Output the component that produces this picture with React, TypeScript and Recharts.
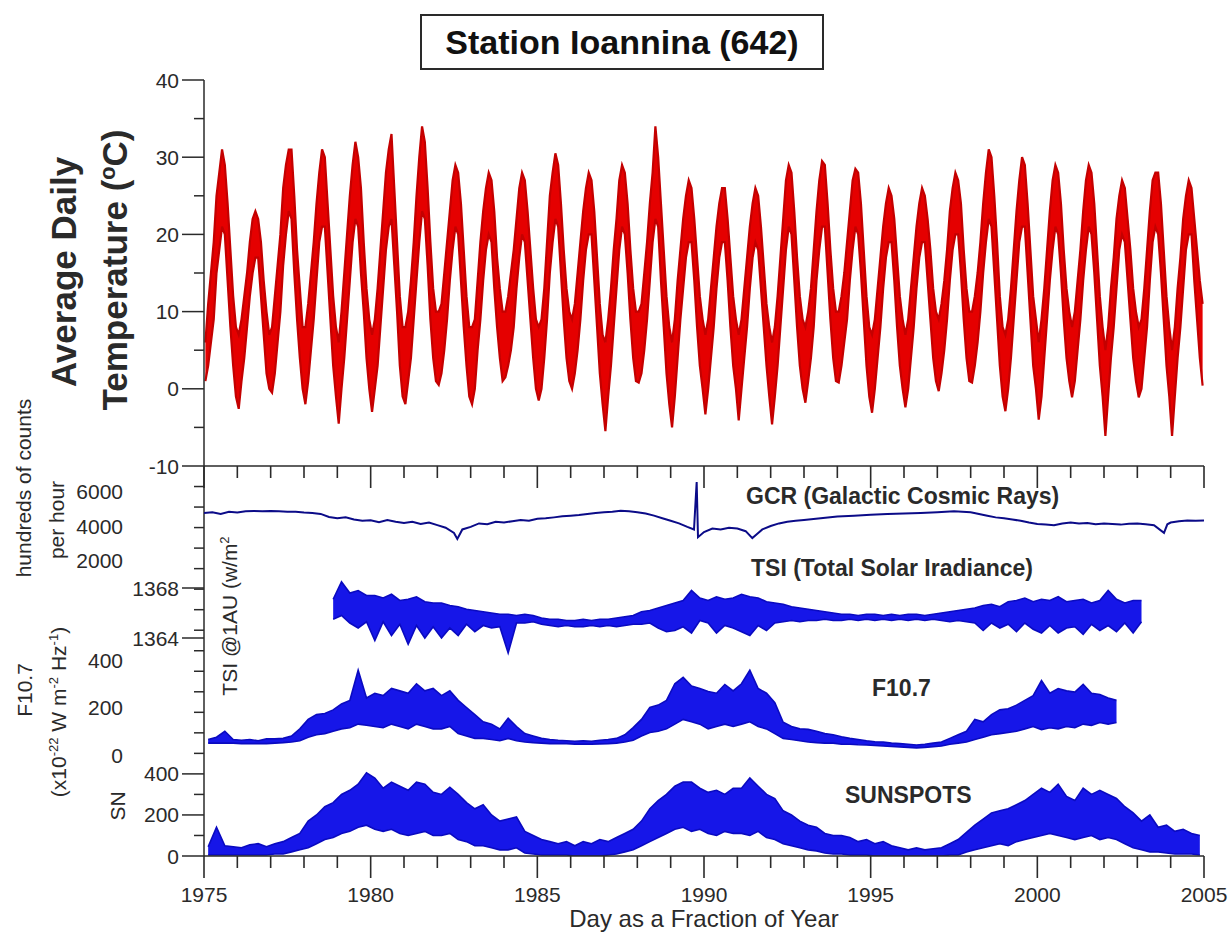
import React from "react";
import { ComposedChart, Area, Line, XAxis, YAxis } from "recharts";

const W = 1229;
const H = 935;
const PLOT_L = 204;
const PLOT_R = 1204;
const LOWER_TOP = 466;
const LOWER_BOTTOM = 856;
const AXIS_W = 60;
const X_AXIS_H = 30;
const AXIS = "#2a2a2a";
const TEXT = "#2a2a2a";
const RED = "#e50000";
const RED_EDGE = "#c40000";
const BLUE = "#1616e8";
const BLUE_EDGE = "#0a0ac0";
const NAVY = "#0b0b88";
const FONT = '"Liberation Sans", Arial, Helvetica, sans-serif';

const YEAR_TICKS = [
  1975, 1976, 1977, 1978, 1979, 1980, 1981, 1982, 1983, 1984, 1985, 1986, 1987, 1988, 1989, 1990,
  1991, 1992, 1993, 1994, 1995, 1996, 1997, 1998, 1999, 2000, 2001, 2002, 2003, 2004, 2005,
];
const TEMP_TICKS = [-10, -5, 0, 5, 10, 15, 20, 25, 30, 35, 40];
const GCR_TICKS = [2000, 4000, 6000];
const TSI_TICKS = [1364, 1368];
const F107_TICKS = [0, 200, 400];
const SN_TICKS = [0, 100, 200, 300, 400, 500, 600, 700, 800, 900, 1000, 1100, 1200, 1300, 1400, 1500, 1600, 1700, 1800];

// daily temperature envelope, one row per year (1975..2004), Jan..Dec
const TEMP_LO = [
  [1, 3, 6, 9, 15, 18, 21, 20, 14, 8, 3, -1],
  [-2.6, 1, 4, 8, 12, 15, 17, 17, 12, 7, 2, 0],
  [-0.5, 2, 6, 10, 16, 20, 23, 22, 15, 9, 4, 0],
  [-2, 1, 5, 9, 14, 19, 21, 21, 15, 9, 3, -1],
  [-4.5, 0, 4, 9, 14, 19, 22, 21, 15, 10, 4, 0],
  [-3, 0, 3, 8, 13, 18, 21, 22, 16, 10, 3, -1],
  [-2, 1, 4, 9, 14, 19, 23, 22, 16, 9, 4, 1],
  [0.5, 2, 5, 9, 14, 18, 21, 20, 14, 8, 3, -1],
  [-2, 0, 5, 9, 14, 18, 20, 19, 13, 8, 4, 1],
  [1.5, 3, 5, 8, 13, 17, 20, 19, 14, 9, 4, 0],
  [-1.5, 0, 4, 9, 15, 19, 22, 21, 15, 9, 4, 1],
  [0, 2, 5, 9, 14, 18, 20, 20, 14, 8, 2, -2],
  [-5.5, -1, 3, 8, 13, 18, 21, 20, 15, 9, 4, 1],
  [0.8, 2, 5, 9, 14, 19, 22, 21, 14, 8, 2, -2],
  [-5, -1, 4, 9, 13, 17, 19, 19, 14, 8, 3, 0],
  [-3.3, 0, 4, 8, 13, 17, 19, 19, 14, 8, 3, 0],
  [-4.1, 0, 4, 8, 13, 17, 19, 18, 13, 8, 3, -1],
  [-4.6, -1, 3, 8, 13, 18, 21, 20, 14, 8, 3, 0],
  [-1.8, 1, 4, 8, 14, 18, 21, 21, 15, 9, 4, 1],
  [0.8, 3, 6, 9, 14, 18, 21, 20, 15, 9, 3, -1],
  [-3.1, 0, 4, 8, 13, 17, 19, 19, 14, 8, 3, 0],
  [-2.4, 0, 4, 8, 13, 17, 19, 19, 14, 9, 4, 1],
  [-0.3, 2, 5, 9, 14, 18, 20, 20, 15, 9, 4, 1],
  [0.8, 3, 6, 10, 15, 19, 22, 21, 15, 9, 3, -1],
  [-2.9, 0, 4, 9, 14, 19, 21, 21, 15, 9, 3, 0],
  [-4, -1, 4, 9, 14, 18, 21, 20, 15, 9, 4, 1],
  [-1.1, 1, 5, 9, 14, 18, 21, 20, 15, 9, 3, -1],
  [-6.1, -1, 4, 8, 13, 18, 20, 19, 14, 9, 4, 1],
  [-1.1, 0, 4, 8, 14, 19, 21, 20, 15, 9, 3, -1],
  [-6.1, -1, 4, 8, 13, 18, 20, 20, 14, 9, 4, 0.4],
];
const TEMP_HI = [
  [6, 11, 15, 19, 25, 28, 31, 29, 24, 18, 12, 8],
  [7, 9, 12, 15, 19, 22, 23, 22, 19, 14, 10, 7],
  [8, 12, 16, 20, 26, 29, 31, 31, 25, 18, 13, 8],
  [8, 11, 15, 19, 24, 28, 31, 30, 24, 18, 12, 8],
  [6, 10, 15, 20, 25, 29, 32, 30, 26, 19, 13, 9],
  [7, 9, 13, 18, 23, 28, 31, 33, 26, 19, 12, 8],
  [8, 10, 14, 19, 25, 30, 34, 32, 26, 19, 13, 10],
  [10, 11, 15, 19, 23, 27, 29, 28, 24, 18, 12, 8],
  [8, 9, 14, 19, 23, 26, 28, 27, 23, 17, 13, 10],
  [10, 12, 15, 18, 22, 26, 28, 27, 23, 18, 13, 9],
  [8, 9, 13, 19, 25, 28, 30.5, 29, 24, 18, 13, 10],
  [9, 11, 15, 19, 23, 26, 28, 27, 23, 17, 11, 7],
  [6, 9, 13, 18, 22, 27, 29, 28, 24, 18, 13, 10],
  [10, 11, 15, 19, 24, 28, 34, 30, 24, 18, 12, 8],
  [6, 9, 14, 18, 22, 25, 27, 26, 22, 17, 12, 9],
  [7, 9, 13, 17, 21, 24, 26, 26, 22, 17, 12, 9],
  [7, 9, 13, 17, 21, 24, 26, 25, 21, 16, 11, 8],
  [6, 8, 12, 17, 22, 27, 29, 28, 23, 17, 12, 9],
  [8, 10, 13, 18, 23, 27, 29.5, 29, 24, 18, 13, 10],
  [10, 12, 15, 19, 23, 27, 28.5, 28, 24, 18, 12, 8],
  [7, 9, 13, 17, 21, 24, 26, 25, 22, 17, 12, 9],
  [7, 9, 13, 17, 21, 24, 26, 25, 22, 18, 13, 10],
  [9, 11, 14, 18, 23, 26, 28, 27, 24, 18, 13, 10],
  [10, 12, 15, 19, 24, 28, 31, 30, 25, 19, 12, 8],
  [7, 9, 13, 18, 23, 27, 30, 29, 24, 18, 12, 9],
  [6, 9, 13, 18, 23, 27, 29, 28, 24, 18, 13, 10],
  [8, 10, 14, 18, 23, 27, 29, 28, 24, 18, 12, 8],
  [5, 8, 13, 17, 22, 25, 27, 26, 22, 18, 13, 10],
  [8, 9, 13, 18, 23, 27, 28, 28, 24, 18, 12, 8],
  [5, 8, 13, 17, 22, 25, 27, 26, 22, 18, 14, 11],
];

// GCR neutron counts (hundreds of counts per hour): [year, value]
const GCR = [
  [1975.0, 4750], [1975.25, 4800], [1975.5, 4700], [1975.75, 4820], [1976.0, 4780], [1976.25, 4850],
  [1976.5, 4870], [1976.75, 4860], [1977.0, 4870], [1977.25, 4850], [1977.5, 4820], [1977.75, 4830],
  [1978.0, 4780], [1978.25, 4760], [1978.5, 4700], [1978.75, 4520], [1979.0, 4450], [1979.25, 4500],
  [1979.5, 4380], [1979.75, 4300], [1980.0, 4330], [1980.25, 4220], [1980.5, 4350], [1980.75, 4250],
  [1981.0, 4170], [1981.25, 4240], [1981.5, 4120], [1981.75, 4200], [1982.0, 4050], [1982.25, 3900],
  [1982.5, 3600], [1982.6, 3250], [1982.75, 3800], [1983.0, 3950], [1983.25, 4150], [1983.5, 4100],
  [1983.75, 4250], [1984.0, 4200], [1984.25, 4280], [1984.5, 4350], [1984.75, 4300], [1985.0, 4420],
  [1985.25, 4450], [1985.5, 4500], [1985.75, 4560], [1986.0, 4600], [1986.25, 4640], [1986.5, 4700],
  [1986.75, 4750], [1987.0, 4800], [1987.25, 4830], [1987.5, 4880], [1987.75, 4850], [1988.0, 4800],
  [1988.25, 4720], [1988.5, 4600], [1988.75, 4450], [1989.0, 4300], [1989.25, 4150], [1989.5, 3950],
  [1989.7, 3800], [1989.78, 6550], [1989.82, 3350], [1990.0, 3650], [1990.25, 3850], [1990.5, 3800],
  [1990.75, 3900], [1991.0, 3850], [1991.25, 3700], [1991.45, 3300], [1991.6, 3550], [1991.75, 3800],
  [1992.0, 4000], [1992.25, 4150], [1992.5, 4250], [1992.75, 4300], [1993.0, 4350], [1993.5, 4450],
  [1994.0, 4550], [1994.5, 4600], [1995.0, 4650], [1995.5, 4700], [1996.0, 4720], [1996.5, 4760],
  [1997.0, 4800], [1997.5, 4850], [1998.0, 4800], [1998.25, 4700], [1998.5, 4600], [1998.75, 4500],
  [1999.0, 4450], [1999.25, 4380], [1999.5, 4300], [1999.75, 4200], [2000.0, 4120], [2000.25, 4080],
  [2000.5, 4050], [2000.75, 4150], [2001.0, 4200], [2001.25, 4150], [2001.5, 4180], [2001.75, 4100],
  [2002.0, 4150], [2002.25, 4120], [2002.5, 4080], [2002.75, 4130], [2003.0, 4150], [2003.25, 4100],
  [2003.5, 4050], [2003.8, 3600], [2003.9, 4100], [2004.0, 4200], [2004.25, 4280], [2004.5, 4320],
  [2004.75, 4300], [2005.0, 4320],
];

// TSI (W/m2), quarterly [lo, hi] pairs; first row is 1978 Q4 only
const TSI_Q = [
  [1365.5, 1367.1],
  [1365.8, 1368.5, 1365.2, 1367.6, 1364.8, 1367.8, 1365.3, 1367.4],
  [1363.8, 1367.4, 1365.3, 1367.2, 1364.2, 1367.5, 1365.1, 1367.0],
  [1363.5, 1367.1, 1365.0, 1367.3, 1364.0, 1366.9, 1364.9, 1366.8],
  [1364.0, 1366.8, 1364.8, 1366.6, 1364.2, 1366.5, 1365.1, 1366.3],
  [1364.5, 1366.2, 1365.0, 1366.1, 1364.8, 1366.0, 1364.9, 1365.9],
  [1362.8, 1365.9, 1365.2, 1365.8, 1365.2, 1365.9, 1365.3, 1365.8],
  [1365.1, 1365.6, 1365.0, 1365.5, 1364.9, 1365.5, 1365.0, 1365.4],
  [1364.9, 1365.4, 1364.9, 1365.5, 1365.0, 1365.4, 1364.9, 1365.5],
  [1365.0, 1365.5, 1364.9, 1365.6, 1365.0, 1365.7, 1365.1, 1365.8],
  [1365.1, 1366.1, 1365.2, 1366.2, 1364.8, 1366.4, 1364.5, 1366.6],
  [1364.6, 1366.8, 1364.9, 1367.0, 1364.4, 1367.8, 1365.4, 1367.2],
  [1365.2, 1367.0, 1364.4, 1367.3, 1365.0, 1367.1, 1364.8, 1367.2],
  [1364.5, 1367.5, 1364.2, 1367.3, 1365.0, 1367.2, 1364.6, 1366.9],
  [1365.2, 1366.8, 1365.3, 1366.7, 1365.4, 1366.5, 1365.3, 1366.4],
  [1365.4, 1366.3, 1365.4, 1366.2, 1365.5, 1366.1, 1365.4, 1366.0],
  [1365.4, 1365.9, 1365.5, 1365.9, 1365.4, 1365.8, 1365.5, 1365.9],
  [1365.4, 1365.9, 1365.5, 1365.8, 1365.4, 1365.9, 1365.5, 1365.8],
  [1365.4, 1365.9, 1365.5, 1365.9, 1365.4, 1365.8, 1365.5, 1365.9],
  [1365.4, 1366.0, 1365.3, 1366.1, 1365.4, 1366.2, 1365.3, 1366.3],
  [1365.2, 1366.4, 1364.6, 1366.6, 1365.2, 1366.7, 1364.8, 1366.5],
  [1365.1, 1366.9, 1364.5, 1367.0, 1365.2, 1367.2, 1364.7, 1366.9],
  [1364.4, 1367.1, 1365.0, 1367.0, 1364.4, 1367.3, 1364.8, 1366.9],
  [1364.9, 1367.0, 1364.3, 1367.1, 1365.1, 1366.8, 1364.6, 1367.0],
  [1365.0, 1367.8, 1364.5, 1367.1, 1365.2, 1366.8, 1364.4, 1367.0],
  [1365.3, 1367.0],
];

// F10.7 solar flux, quarterly [lo, hi] pairs from 1975
const F107_Q = [
  [50, 65, 50, 75, 50, 100, 50, 65],
  [48, 62, 48, 65, 48, 60, 48, 68],
  [50, 68, 52, 70, 55, 80, 60, 110],
  [75, 150, 85, 170, 90, 175, 100, 190],
  [110, 215, 115, 230, 130, 357, 125, 240],
  [120, 260, 115, 250, 130, 280, 120, 270],
  [110, 260, 130, 300, 120, 270, 110, 280],
  [110, 250, 120, 270, 90, 230, 80, 200],
  [70, 170, 70, 140, 65, 130, 60, 110],
  [70, 155, 60, 120, 55, 90, 52, 80],
  [50, 70, 48, 65, 48, 62, 48, 60],
  [46, 58, 46, 60, 46, 58, 47, 62],
  [48, 65, 50, 70, 55, 85, 62, 115],
  [80, 150, 95, 200, 100, 210, 110, 230],
  [130, 300, 150, 327, 140, 290, 130, 280],
  [110, 267, 120, 260, 130, 297, 120, 270],
  [130, 300, 140, 357, 120, 280, 110, 260],
  [90, 220, 70, 138, 65, 120, 60, 110],
  [55, 108, 52, 100, 50, 90, 50, 85],
  [45, 77, 45, 70, 43, 65, 42, 60],
  [40, 56, 38, 55, 36, 50, 34, 48],
  [32, 45, 30, 42, 32, 45, 35, 50],
  [38, 55, 45, 70, 50, 85, 55, 100],
  [65, 150, 75, 140, 85, 170, 90, 190],
  [95, 195, 100, 210, 110, 230, 120, 250],
  [107, 313, 115, 260, 110, 280, 120, 270],
  [115, 265, 130, 297, 125, 260, 137, 255],
  [130, 240, 137, 230],
];

// sunspot number, quarterly [lo, hi] pairs from 1975
const SN_Q = [
  [5, 45, 5, 140, 5, 50, 5, 45],
  [5, 40, 5, 55, 5, 60, 5, 45],
  [10, 60, 10, 70, 20, 90, 30, 110],
  [40, 170, 60, 200, 80, 240, 90, 260],
  [110, 300, 120, 320, 140, 350, 150, 405],
  [130, 380, 120, 330, 130, 360, 110, 340],
  [100, 320, 110, 360, 120, 350, 100, 310],
  [100, 300, 110, 335, 80, 300, 70, 260],
  [50, 230, 50, 250, 40, 200, 30, 170],
  [30, 180, 40, 190, 15, 120, 10, 100],
  [5, 80, 5, 70, 5, 60, 5, 70],
  [0, 50, 0, 70, 0, 60, 0, 80],
  [5, 70, 10, 90, 20, 110, 30, 130],
  [50, 170, 70, 230, 90, 270, 110, 300],
  [130, 340, 140, 360, 120, 360, 130, 330],
  [110, 310, 100, 320, 120, 300, 110, 330],
  [110, 330, 100, 380, 120, 340, 90, 300],
  [80, 280, 60, 220, 50, 200, 40, 170],
  [30, 150, 25, 140, 15, 110, 10, 100],
  [10, 100, 5, 90, 5, 70, 5, 80],
  [0, 60, 0, 70, 0, 50, 0, 40],
  [0, 30, 0, 40, 0, 30, 0, 35],
  [0, 40, 5, 60, 5, 80, 20, 115],
  [30, 150, 40, 180, 50, 210, 60, 220],
  [50, 230, 70, 250, 80, 270, 90, 300],
  [100, 330, 110, 310, 100, 350, 90, 290],
  [80, 270, 90, 330, 100, 300, 80, 320],
  [90, 300, 80, 280, 60, 240, 40, 210],
  [30, 170, 20, 200, 20, 140, 15, 150],
  [10, 120, 10, 130, 10, 110, 5, 100],
];

const tempData = TEMP_LO.flatMap((row, i) =>
  row.map((lo, m) => ({ t: 1975 + i + (m + 0.5) / 12, r: [lo, TEMP_HI[i][m]] }))
);

function quarterRows(rows: number[][], firstYear: number, firstQuarter = 0) {
  return rows.flatMap((row, i) => {
    const out: { t: number; r: number[] }[] = [];
    for (let k = 0; k < row.length; k += 2) {
      const q = (i === 0 ? firstQuarter : 0) + k / 2;
      out.push({ t: firstYear + i + (q + 0.5) / 4, r: [row[k], row[k + 1]] });
    }
    return out;
  });
}

const gcrData = GCR.map(([t, v]) => ({ t, v }));
const tsiData = quarterRows(TSI_Q, 1978, 3);
const f107Data = quarterRows(F107_Q, 1975);
const snData = quarterRows(SN_Q, 1975);

// plot area spans PLOT_L..PLOT_R horizontally and top..bottom vertically
const frame = (top: number, bottom: number, bottomAxisH = 0, topAxisH = 0, leftAxisW = AXIS_W) => ({
  top: top - topAxisH,
  bottom: H - bottom - bottomAxisH,
  left: PLOT_L - leftAxisW,
  right: W - PLOT_R,
});

const leftTick =
  (isMajor: (v: number) => boolean, hasLabel: (v: number) => boolean, labelX: number | null, lines = true) =>
  (props: any) => {
    const { x, y, payload } = props;
    const v = payload.value;
    const len = isMajor(v) ? 22 : 10;
    return (
      <g>
        {lines && <line x1={x - len} x2={x} y1={y} y2={y} stroke={AXIS} strokeWidth={1.5} />}
        {hasLabel(v) && (
          <text
            x={labelX ?? x - 25}
            y={y}
            textAnchor="end"
            dominantBaseline="central"
            fontSize={21}
            fontFamily={FONT}
            fill={TEXT}
          >
            {v}
          </text>
        )}
      </g>
    );
  };

// year ticks point down from their axis line
const yearTick = (withLabels: boolean) => (props: any) => {
  const { x, y, payload } = props;
  const v = Number(payload.value);
  const major = v % 5 === 0;
  const len = major ? 22 : 12;
  const y0 = Number(y);
  return (
    <g>
      <path d={`M${x},${y0}L${x},${y0 + len}`} stroke={AXIS} strokeWidth={1.6} fill="none" />
      {withLabels && major && (
        <text x={x} y={y0 + 38} textAnchor="middle" dominantBaseline="central" fontSize={21} fontFamily={FONT} fill={TEXT}>
          {v}
        </text>
      )}
    </g>
  );
};

const layer: React.CSSProperties = { position: "absolute", left: 0, top: 0 };

function VText({ x, y, size, bold, children }: any) {
  return (
    <div
      style={{
        position: "absolute",
        left: x,
        top: y,
        transform: "translate(-50%, -50%) rotate(-90deg)",
        whiteSpace: "nowrap",
        fontSize: size,
        fontWeight: bold ? 700 : 400,
        lineHeight: 1,
        color: TEXT,
      }}
    >
      {children}
    </div>
  );
}

function HText({ x, y, size, bold, children }: any) {
  return (
    <div
      style={{
        position: "absolute",
        left: x,
        top: y,
        transform: "translateY(-50%)",
        whiteSpace: "nowrap",
        fontSize: size,
        fontWeight: bold ? 700 : 400,
        lineHeight: 1,
        color: TEXT,
      }}
    >
      {children}
    </div>
  );
}

const sup = { fontSize: "0.62em", verticalAlign: "0.55em" } as React.CSSProperties;

export default function App() {
  const xHidden = <XAxis dataKey="t" type="number" domain={[1975, 2005]} hide allowDataOverflow />;
  const yearAxis = (orientation: "top" | "bottom", labels: boolean) => (
    <XAxis
      orientation={orientation}
      dataKey="t"
      type="number"
      domain={[1975, 2005]}
      ticks={YEAR_TICKS}
      interval={0}
      height={X_AXIS_H}
      tickSize={0}
      tickMargin={0}
      tickLine={false}
      axisLine={{ stroke: AXIS, strokeWidth: 1.5 }}
      tick={yearTick(labels)}
      allowDataOverflow
    />
  );
  return (
    <div
      style={{
        position: "absolute",
        left: 0,
        top: 0,
        width: W,
        height: H,
        background: "#fff",
        fontFamily: FONT,
        overflow: "hidden",
      }}
    >
      {/* temperature panel */}
      <div style={layer}>
        <ComposedChart width={W} height={H} data={tempData} margin={frame(80, LOWER_TOP)}>
          {xHidden}
          <YAxis
            type="number"
            domain={[-10, 40]}
            ticks={TEMP_TICKS}
            interval={0}
            width={AXIS_W}
            tickSize={0}
            tickMargin={0}
            tickLine={false}
            axisLine={{ stroke: AXIS, strokeWidth: 1.5 }}
            tick={leftTick((v) => v % 10 === 0, (v) => v % 10 === 0, null)}
            allowDataOverflow
          />
          <Area
            dataKey="r"
            type="linear"
            fill={RED}
            fillOpacity={1}
            stroke={RED_EDGE}
            strokeWidth={2.2}
            dot={false}
            activeDot={false}
            isAnimationActive={false}
          />
        </ComposedChart>
      </div>

      {/* sunspots + lower frame */}
      <div style={layer}>
        <ComposedChart width={W} height={H} data={snData} margin={frame(LOWER_TOP, LOWER_BOTTOM, X_AXIS_H)}>
          {yearAxis("bottom", true)}
          <YAxis
            type="number"
            domain={[0, 1900]}
            ticks={SN_TICKS}
            interval={0}
            width={AXIS_W}
            tickSize={0}
            tickMargin={0}
            tickLine={false}
            axisLine={{ stroke: AXIS, strokeWidth: 1.5 }}
            tick={leftTick((v) => v <= 400 && v % 200 === 0, (v) => v <= 400 && v % 200 === 0, null)}
            allowDataOverflow
          />
          <Area
            dataKey="r"
            type="linear"
            fill={BLUE}
            fillOpacity={1}
            stroke={BLUE_EDGE}
            strokeWidth={1.6}
            dot={false}
            activeDot={false}
            isAnimationActive={false}
          />
        </ComposedChart>
      </div>

      {/* F10.7 */}
      <div style={layer}>
        <ComposedChart width={W} height={H} data={f107Data} margin={frame(565, 755)}>
          {xHidden}
          <YAxis
            type="number"
            domain={[0, 800]}
            ticks={F107_TICKS}
            interval={0}
            width={AXIS_W}
            tickSize={0}
            tickMargin={0}
            tickLine={false}
            axisLine={false}
            tick={leftTick(() => false, () => true, 123, false)}
            allowDataOverflow
          />
          <Area
            dataKey="r"
            type="linear"
            fill={BLUE}
            fillOpacity={1}
            stroke={BLUE_EDGE}
            strokeWidth={1.6}
            dot={false}
            activeDot={false}
            isAnimationActive={false}
          />
        </ComposedChart>
      </div>

      {/* TSI */}
      <div style={layer}>
        <ComposedChart width={W} height={H} data={tsiData} margin={frame(538, 688)}>
          {xHidden}
          <YAxis
            type="number"
            domain={[1360, 1372]}
            ticks={TSI_TICKS}
            interval={0}
            width={AXIS_W}
            tickSize={0}
            tickMargin={0}
            tickLine={false}
            axisLine={false}
            tick={leftTick(() => true, () => true, null)}
            allowDataOverflow
          />
          <Area
            dataKey="r"
            type="linear"
            fill={BLUE}
            fillOpacity={1}
            stroke={BLUE_EDGE}
            strokeWidth={1.6}
            dot={false}
            activeDot={false}
            isAnimationActive={false}
          />
        </ComposedChart>
      </div>

      {/* GCR */}
      <div style={layer}>
        <ComposedChart width={W} height={H} data={gcrData} margin={frame(457, 595)}>
          {xHidden}
          <YAxis
            type="number"
            domain={[0, 8000]}
            ticks={GCR_TICKS}
            interval={0}
            width={AXIS_W}
            tickSize={0}
            tickMargin={0}
            tickLine={false}
            axisLine={false}
            tick={leftTick(() => false, () => true, 123, false)}
            allowDataOverflow
          />
          <Line
            dataKey="v"
            type="linear"
            stroke={NAVY}
            strokeWidth={2}
            dot={false}
            activeDot={false}
            isAnimationActive={false}
          />
        </ComposedChart>
      </div>

      {/* top edge of the lower panel: year axis with ticks pointing down (hidden y axis takes no width) */}
      <div style={layer}>
        <ComposedChart width={W} height={H} data={gcrData} margin={frame(LOWER_TOP, LOWER_BOTTOM, 0, X_AXIS_H, 0)}>
          {yearAxis("top", false)}
          <YAxis type="number" domain={[0, 1]} hide />
        </ComposedChart>
      </div>

      {/* title */}
      <div
        style={{
          position: "absolute",
          left: 420,
          top: 14,
          width: 400,
          height: 52,
          border: `2px solid ${AXIS}`,
          background: "#fff",
          display: "flex",
          alignItems: "center",
          justifyContent: "center",
          fontSize: 34,
          fontWeight: 700,
          color: "#111",
          whiteSpace: "nowrap",
        }}
      >
        Station Ioannina (642)
      </div>

      {/* axis titles */}
      <VText x={63} y={272} size={35} bold>
        Average Daily
      </VText>
      <VText x={114} y={270} size={35} bold>
        Temperature (<span style={sup}>o</span>C)
      </VText>
      <VText x={23} y={488} size={21}>
        hundreds of counts
      </VText>
      <VText x={56} y={520} size={21}>
        per hour
      </VText>
      <VText x={24} y={690} size={21}>
        F10.7
      </VText>
      <VText x={58} y={712} size={21}>
        (x10<span style={sup}>-22</span> W m<span style={sup}>-2</span> Hz<span style={sup}>-1</span>)
      </VText>
      <VText x={117} y={806} size={21}>
        SN
      </VText>
      <VText x={229} y={616} size={21}>
        TSI @1AU (w/m<span style={sup}>2</span>
      </VText>

      {/* series annotations */}
      <HText x={746} y={496} size={23} bold>
        GCR (Galactic Cosmic Rays)
      </HText>
      <HText x={751} y={568} size={23} bold>
        TSI (Total Solar Iradiance)
      </HText>
      <HText x={872} y={688} size={23} bold>
        F10.7
      </HText>
      <HText x={845} y={795} size={23} bold>
        SUNSPOTS
      </HText>

      <div
        style={{
          position: "absolute",
          left: 704,
          top: 919,
          transform: "translate(-50%, -50%)",
          whiteSpace: "nowrap",
          fontSize: 24,
          lineHeight: 1,
          color: TEXT,
        }}
      >
        Day as a Fraction of Year
      </div>
    </div>
  );
}
